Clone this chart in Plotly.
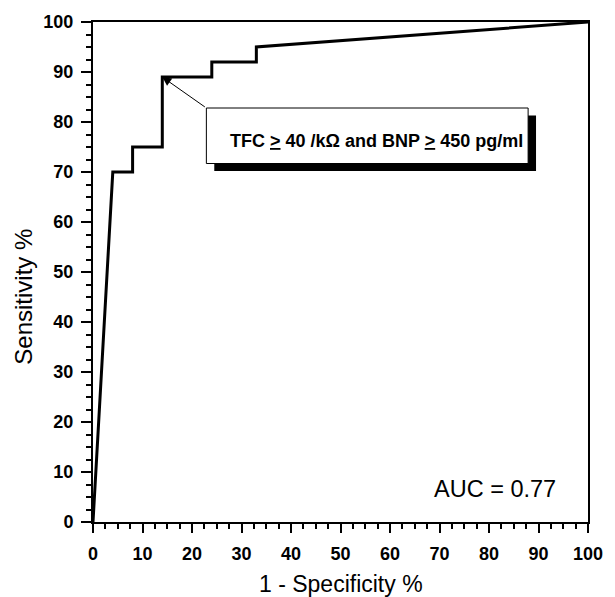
import plotly.graph_objects as go

# ROC curve points (1 - specificity %, sensitivity %)
fpr = [0, 4, 8, 8, 14, 14, 24, 24, 33, 33, 100]
tpr = [0, 70, 70, 75, 75, 89, 89, 92, 92, 95, 100]

tick_vals = [0, 10, 20, 30, 40, 50, 60, 70, 80, 90, 100]
tick_text = [str(v) for v in tick_vals]

cut_point = (14, 89)
cut_label = "TFC <u>></u> 40 /kΩ and BNP <u>></u> 450 pg/ml"
auc_label = "AUC = 0.77"
x_title = "1 - Specificity %"
y_title = "Sensitivity %"

# annotation box in data units
box_x0, box_x1 = 22.9, 87.9
box_y0, box_y1 = 71.7, 82.8
shadow_dx, shadow_dy = 1.6, -1.5

FONT = "Liberation Sans, Arial, sans-serif"

fig = go.Figure()
fig.add_trace(go.Scatter(x=fpr, y=tpr, mode="lines",
                         line=dict(color="black", width=3), showlegend=False,
                         hoverinfo="skip"))

axis_common = dict(
    range=[0, 100], tickvals=tick_vals, ticktext=tick_text,
    showgrid=False, zeroline=False,
    showline=True, linecolor="black", linewidth=2, mirror=True,
    ticks="outside", tickwidth=2, tickcolor="black",
    tickfont=dict(family=FONT, size=18, color="black", weight="bold"),
    minor=dict(dtick=2.5, ticks="outside", ticklen=5, tickwidth=1.5, tickcolor="black", showgrid=False),
)
fig.update_xaxes(**axis_common, ticklen=9, ticklabelstandoff=5)
fig.update_yaxes(**axis_common, ticklen=10, ticklabelstandoff=4)

fig.add_shape(type="rect", xref="x", yref="y",
              x0=box_x0 + shadow_dx, x1=box_x1 + shadow_dx,
              y0=box_y0 + shadow_dy, y1=box_y1 + shadow_dy,
              fillcolor="black", line=dict(color="black", width=0))
fig.add_shape(type="rect", xref="x", yref="y",
              x0=box_x0, x1=box_x1, y0=box_y0, y1=box_y1,
              fillcolor="white", line=dict(color="black", width=1))

fig.add_annotation(x=(box_x0 + box_x1) / 2 + 1.8, y=(box_y0 + box_y1) / 2 - 1,
                   xref="x", yref="y", text=cut_label, showarrow=False,
                   font=dict(family=FONT, size=18, color="black", weight="bold"))
fig.add_annotation(x=cut_point[0], y=cut_point[1], xref="x", yref="y",
                   ax=box_x0, ay=box_y1, axref="x", ayref="y",
                   text="", showarrow=True, arrowhead=2, arrowsize=1.8,
                   arrowwidth=1, arrowcolor="black", standoff=0)
fig.add_annotation(x=81.2, y=6.7, xref="x", yref="y", text=auc_label, showarrow=False,
                   font=dict(family=FONT, size=23.5, color="black"))
fig.add_annotation(x=0.5, y=-0.1245, xref="paper", yref="paper", text=x_title,
                   showarrow=False, xanchor="center", yanchor="middle",
                   font=dict(family=FONT, size=23, color="black"))
fig.add_annotation(x=-0.142, y=0.45, xref="paper", yref="paper", text=y_title,
                   showarrow=False, xanchor="center", yanchor="middle", textangle=-90,
                   font=dict(family=FONT, size=24, color="black"))

fig.update_layout(width=615, height=597,
                  margin=dict(l=93, r=16, t=16, b=75),
                  plot_bgcolor="white", paper_bgcolor="white")

fig.write_html("out.html", config={"displayModeBar": False},
               post_script="document.body.style.margin='0';document.body.style.overflow='hidden';")
